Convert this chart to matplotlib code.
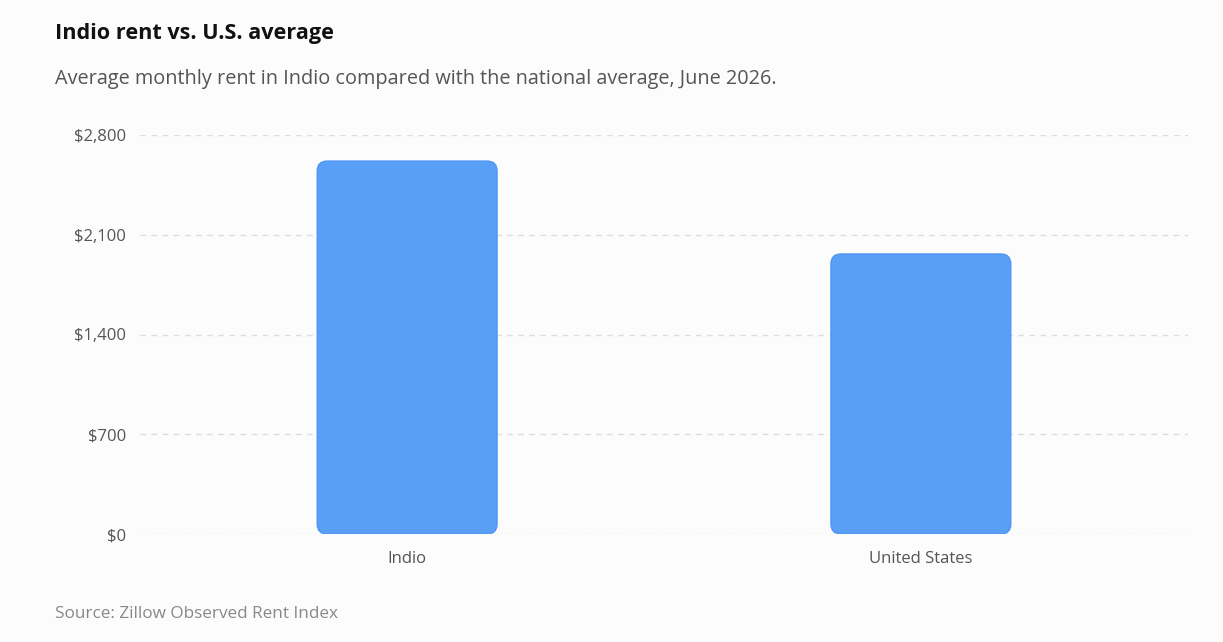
import matplotlib
matplotlib.use("Agg")
import matplotlib.pyplot as plt
from matplotlib.patches import FancyBboxPatch

categories = ["Indio", "United States"]
rents = [2617, 1965]
yticks = [0, 700, 1400, 2100, 2800]
ytick_labels = ["$0", "$700", "$1,400", "$2,100", "$2,800"]

plt.rcParams['font.family'] = ['Open Sans', 'DejaVu Sans']
fig = plt.figure(figsize=(12.23, 6.42), dpi=100, facecolor="#fcfcfc")
ax = fig.add_axes([140/1223, 1-534/642, 1048/1223, 399/642], facecolor="#fcfcfc")

bars = ax.bar(range(len(categories)), rents, width=0.35, color="none")
for b in bars:
    p = FancyBboxPatch((b.get_x(), 0), b.get_width(), b.get_height(),
                       boxstyle="round,pad=0,rounding_size=0.0195",
                       mutation_aspect=3590, facecolor="#599ff7",
                       edgecolor="#4f95f2", linewidth=1)
    ax.add_patch(p)

ax.set_xlim(-0.52, 1.52)
ax.set_ylim(0, 2800)
ax.set_yticks(yticks)
ax.set_yticklabels(ytick_labels)
ax.set_xticks(range(len(categories)))
ax.set_xticklabels(categories)
ax.tick_params(length=0, labelsize=12, colors="#555555")
ax.tick_params(axis='y', pad=10)
ax.tick_params(axis='x', pad=12)
for s in ax.spines.values():
    s.set_visible(False)
ax.set_axisbelow(True)
ax.yaxis.grid(True, color="#dddddd", linestyle=(0, (4, 4)), linewidth=1)

fig.text(55/1223, 1-34/642, "Indio rent vs. U.S. average", fontsize=15.6, fontweight="bold", color="#111111", va="center")
fig.text(55/1223, 1-79/642, "Average monthly rent in Indio compared with the national average, June 2026.", fontsize=14.3, color="#555555", va="center")
fig.text(55/1223, 1-614/642, "Source: Zillow Observed Rent Index", fontsize=12.3, color="#888888", va="center")

fig.savefig("out.png", dpi=100, facecolor=fig.get_facecolor())
